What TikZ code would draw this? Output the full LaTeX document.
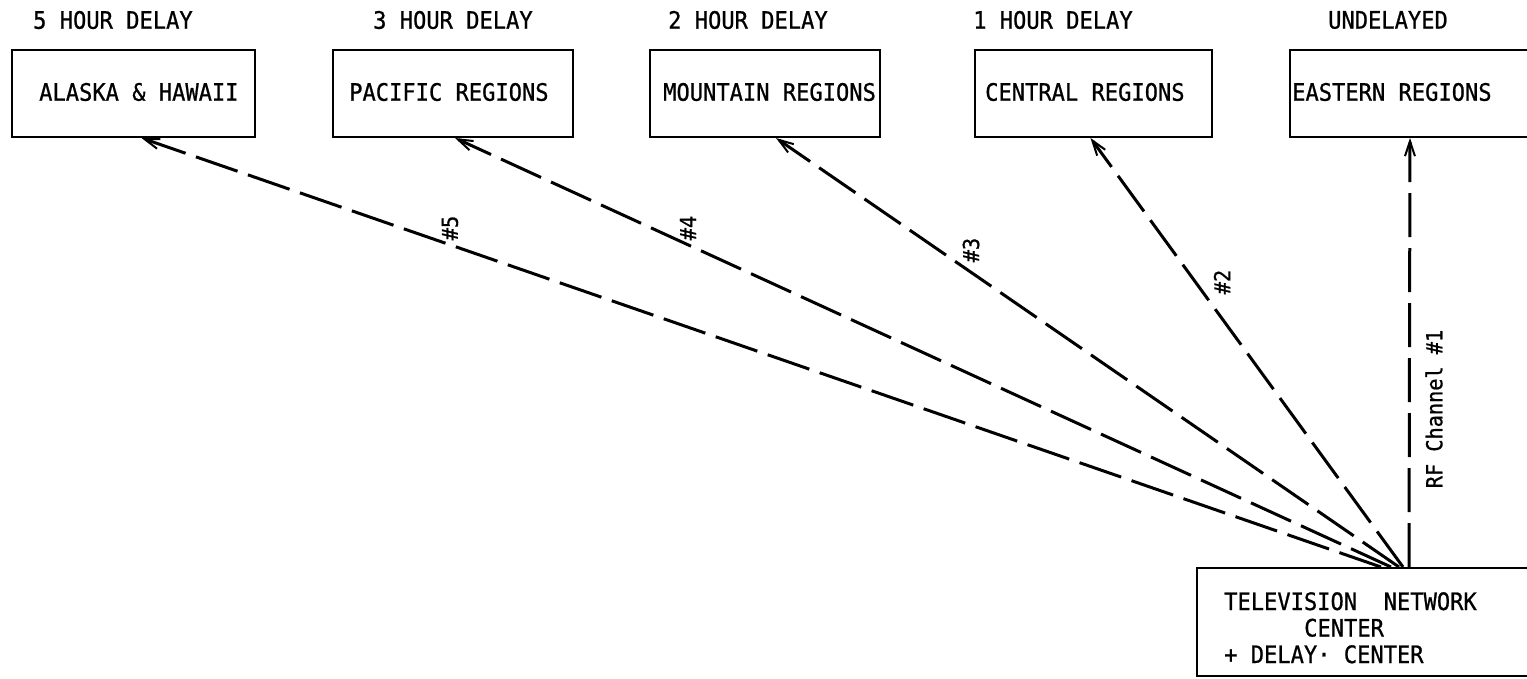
\documentclass[tikz,border=0pt]{standalone}
\usepackage{fontspec}
\newfontfamily\tw{DejaVu Sans Mono}[FakeStretch=0.92, FakeBold=0.8]
\usetikzlibrary{arrows.meta,calc}
\begin{document}
\begin{tikzpicture}[x=1pt,y=-1pt,
  box/.style={draw, line width=2pt, minimum height=87pt, inner sep=0pt},
  txt/.style={font=\tw\fontsize{24}{26.5}\selectfont, inner sep=0pt, anchor=west},
  conn/.style={line width=3pt, dash pattern=on 44pt off 11pt,
    -{Straight Barb[length=15pt,width=10pt,line width=2pt]}},
  num/.style={font=\tw\fontsize{22}{24}\selectfont, rotate=90, inner sep=0pt}]
\useasboundingbox[fill=white] (0,0) rectangle (1527,678);

% region boxes
\node[box, minimum width=243pt] (alaska)   at (133.5,93.5) {};
\node[box, minimum width=240pt] (pacific)  at (453,93.5) {};
\node[box, minimum width=230pt] (mountain) at (765,93.5) {};
\node[box, minimum width=237pt] (central)  at (1093.5,93.5) {};
\node[box, minimum width=245pt] (eastern)  at (1412.5,93.5) {};

\node[txt] (alaskaT)   at ($(alaska.west)+(28,-1.5)$)   {ALASKA \& HAWAII};
\node[txt] (pacificT)  at ($(pacific.west)+(17,-1.5)$)  {PACIFIC REGIONS};
\node[txt] (mountainT) at ($(mountain.west)+(14,-1.5)$) {MOUNTAIN REGIONS};
\node[txt] (centralT)  at ($(central.west)+(11,-1.5)$)  {CENTRAL REGIONS};
\node[txt] (easternT)  at ($(eastern.west)+(3,-1.5)$)   {EASTERN REGIONS};

% delay captions
\node[txt] (d5) at (33,20)   {5 HOUR DELAY};
\node[txt] (d3) at (373,20)  {3 HOUR DELAY};
\node[txt] (d2) at (668,20)  {2 HOUR DELAY};
\node[txt] (d1) at (973,20)  {1 HOUR DELAY};
\node[txt] (d0) at (1328,20) {UNDELAYED};

% network centre
\node[draw, line width=2pt, minimum width=338pt, minimum height=108pt,
      inner sep=0pt] (tv) at (1366,622) {};
\node[txt, anchor=base west] (tvA) at ($(tv.north west)+(28,43)$) {TELEVISION\ \ NETWORK};
\node[txt, anchor=base west] (tvB) at ($(tv.north west)+(108,69.5)$) {CENTER};
\node[txt, anchor=base west] (tvC) at ($(tv.north west)+(28,96)$) {+ DELAY·\ CENTER};

% connectors
\draw[conn] ($(tv.north west)+(185,0)$) -- ($(alaska.south)+(8,0)$);
\draw[conn] ($(tv.north west)+(195,0)$) -- ($(pacific.south)+(2,0)$);
\draw[conn] ($(tv.north west)+(203,0)$) -- ($(mountain.south)+(11,0)$);
\draw[conn] ($(tv.north west)+(207,0)$) -- ($(central.south)+(-3,0)$);
\draw[conn] ($(tv.north west)+(213,0)$) -- ($(eastern.south)+(-2.5,0)$);

% channel labels
\node[num] (n5) at (450,228)  {\#5};
\node[num] (n4) at (688,228)  {\#4};
\node[num] (n3) at (971,250)  {\#3};
\node[num] (n2) at (1222,282) {\#2};
\node[num] (n1) at (1434,409) {RF Channel \#1};
\end{tikzpicture}
\end{document}
